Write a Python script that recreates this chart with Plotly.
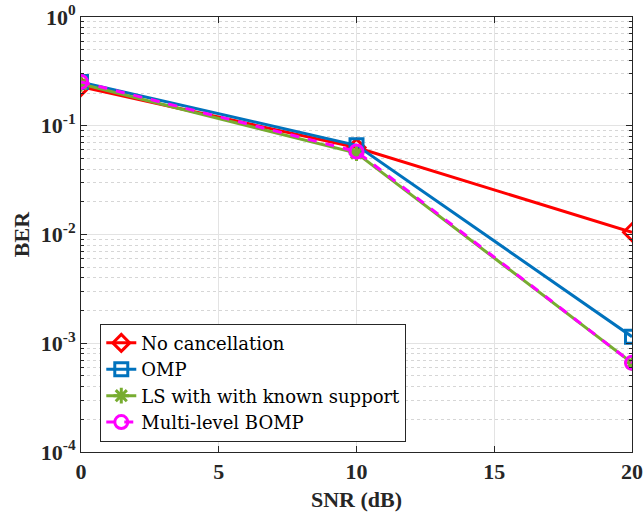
import plotly.graph_objects as go

snr = [0, 10, 20]
ber_nocancel = [0.228, 0.063, 0.0105]
ber_omp = [0.252, 0.066, 0.00115]
ber_ls = [0.242, 0.056, 0.00066]
ber_mlbomp = [0.253, 0.058, 0.00066]

series = [
    ("No cancellation", ber_nocancel, "#FF0000", "diamond-open", "solid"),
    ("OMP", ber_omp, "#0072BD", "square-open", "solid"),
    ("LS with with known support", ber_ls, "#77AC30", "asterisk-open", "solid"),
    ("Multi-level BOMP", ber_mlbomp, "#FF00FF", "circle-open", "dash"),
]

ytickvals = [1e-4, 1e-3, 1e-2, 1e-1, 1e0]
yticktext = ["<b>10<sup>-4</sup></b>", "<b>10<sup>-3</sup></b>", "<b>10<sup>-2</sup></b>",
             "<b>10<sup>-1</sup></b>", "<b>10<sup>0</sup></b>"]
xtickvals = [0, 5, 10, 15, 20]
yminor = [m * d for d in [1e-4, 1e-3, 1e-2, 1e-1] for m in range(2, 10)]

fig = go.Figure()
for name, y, color, sym, dash in series:
    fig.add_trace(go.Scatter(
        x=snr, y=y, name=name, mode="lines+markers",
        line=dict(color=color, width=3, dash=dash),
        marker=dict(symbol=sym, size=13, color=color, line=dict(color=color, width=3)),
    ))

axis_font = dict(family="Liberation Serif", size=22, color="#262626")
fig.update_layout(
    width=643, height=515,
    margin=dict(l=81, r=11, t=17, b=63),
    paper_bgcolor="white", plot_bgcolor="white",
    showlegend=True,
    legend=dict(
        x=0.035, y=0.295, xanchor="left", yanchor="top",
        bgcolor="white", bordercolor="#262626", borderwidth=1,
        font=dict(family="DejaVu Serif", size=18, color="#000000"),
        itemwidth=30, tracegroupgap=0,
    ),
    xaxis=dict(
        range=[0, 20], tickvals=xtickvals, ticktext=["<b>%d</b>" % v for v in xtickvals],
        tickfont=axis_font, automargin=False, ticklabeloverflow="allow",
        title=dict(text="<b>SNR (dB)</b>", font=dict(family="Liberation Serif", size=22, color="#262626"), standoff=8),
        showline=True, linecolor="#262626", linewidth=1, mirror="allticks",
        ticks="inside", ticklen=6, tickcolor="#262626",
        showgrid=True, gridcolor="#e3e3e3", gridwidth=1, zeroline=False,
    ),
    yaxis=dict(
        type="log", range=[-4, 0], tickvals=ytickvals, ticktext=yticktext,
        tickfont=axis_font, automargin=False, ticklabeloverflow="allow",
        title=dict(text="<b>BER</b>", font=dict(family="Liberation Serif", size=22, color="#262626"), standoff=5),
        showline=True, linecolor="#262626", linewidth=1, mirror="allticks",
        ticks="inside", ticklen=6, tickcolor="#262626",
        showgrid=True, gridcolor="#e3e3e3", gridwidth=1, zeroline=False,
        minor=dict(tickmode="array", tickvals=yminor, ticks="inside", ticklen=3, tickcolor="#262626",
                   showgrid=True, gridcolor="#d6d6d6", griddash="dot", gridwidth=1),
    ),
)

# remove the default 8px page margin so the figure fills the window like the reference
fig.write_html("out.html", config={"displayModeBar": False},
               post_script="document.body.style.margin='0';document.body.style.overflow='hidden';")
